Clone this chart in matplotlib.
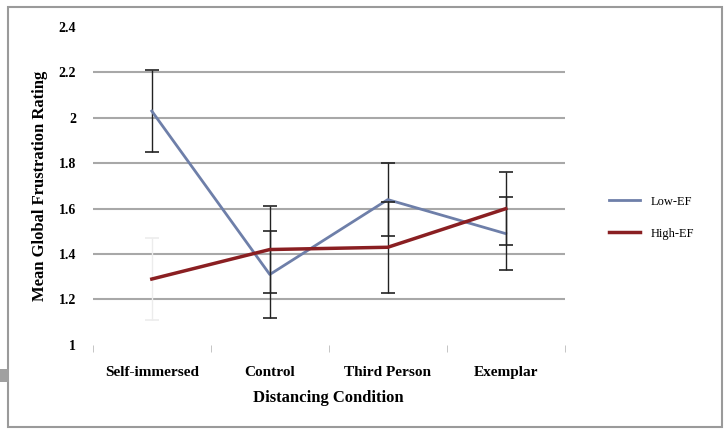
import numpy as np
import matplotlib.pyplot as plt
from matplotlib.patches import Rectangle

conditions = ['Self-immersed', 'Control', 'Third Person', 'Exemplar']
low_ef = [2.03, 1.31, 1.64, 1.49]
high_ef = [1.29, 1.42, 1.43, 1.60]
low_err = [0.18, 0.19, 0.16, 0.16]
high_err = [0.18, 0.19, 0.20, 0.16]
yticks = [1, 1.2, 1.4, 1.6, 1.8, 2, 2.2, 2.4]

plt.rcParams['font.family'] = ['Liberation Serif', 'DejaVu Serif']

fig = plt.figure(figsize=(7.25, 4.3), dpi=100, facecolor='w')
ax = fig.add_axes([0.128, 0.198, 0.651, 0.739])

x = np.arange(len(conditions))
ax.errorbar(x, low_ef, yerr=low_err, fmt='none', ecolor='#222222',
            elinewidth=1, capsize=5, capthick=1.2, zorder=3)
low_line, = ax.plot(x, low_ef, color='#6e7fa9', lw=2, zorder=3)
# the first High-EF bar is barely drawn, so it gets its own faint colour
ax.errorbar(x[1:], high_ef[1:], yerr=high_err[1:], fmt='none', ecolor='#222222',
            elinewidth=1, capsize=5, capthick=1.2, zorder=3)
ax.errorbar(x[:1], high_ef[:1], yerr=high_err[:1], fmt='none', ecolor='#ececec',
            elinewidth=1, capsize=5, capthick=1.2, zorder=2)
high_line, = ax.plot(x, high_ef, color='#8a1f22', lw=2.5, zorder=4)

ax.set_xlim(-0.5, len(conditions) - 0.5)
ax.set_ylim(1, 2.4)
ax.set_yticks(yticks)
ax.set_yticklabels([f'{t:g}' for t in yticks], fontsize=10, fontweight='bold')
ax.set_xticks(x)
ax.set_xticklabels(conditions, fontsize=11, fontweight='bold')
ax.set_xticks(np.arange(-0.5, len(conditions)), minor=True)
ax.tick_params(axis='x', which='major', length=0, pad=15)
ax.tick_params(axis='x', which='minor', length=5, color='#bbbbbb')
ax.tick_params(axis='y', length=0, pad=12)

for t in yticks[1:-1]:
    ax.axhline(t, color='#a8a8a8', lw=1.5, zorder=1)

for spine in ax.spines.values():
    spine.set_visible(False)

ax.set_ylabel('Mean Global Frustration Rating', fontsize=12, fontweight='bold', labelpad=8)
ax.set_xlabel('Distancing Condition', fontsize=12, fontweight='bold', labelpad=8)

ax.legend([low_line, high_line], ['Low-EF', 'High-EF'], loc='center left',
          bbox_to_anchor=(1.07, 0.40), frameon=False, fontsize=9,
          handlelength=2.5, labelspacing=1.6)

# chart frame and sizing handle
fig.patches.append(Rectangle((0.011, 0.008), 0.985, 0.976, transform=fig.transFigure,
                             fill=False, ec='#9a9a9a', lw=1.5))
fig.patches.append(Rectangle((0.0, 0.112), 0.013, 0.03, transform=fig.transFigure,
                             fc='#a0a0a0', ec='none'))

fig.savefig('out.png', dpi=100)
